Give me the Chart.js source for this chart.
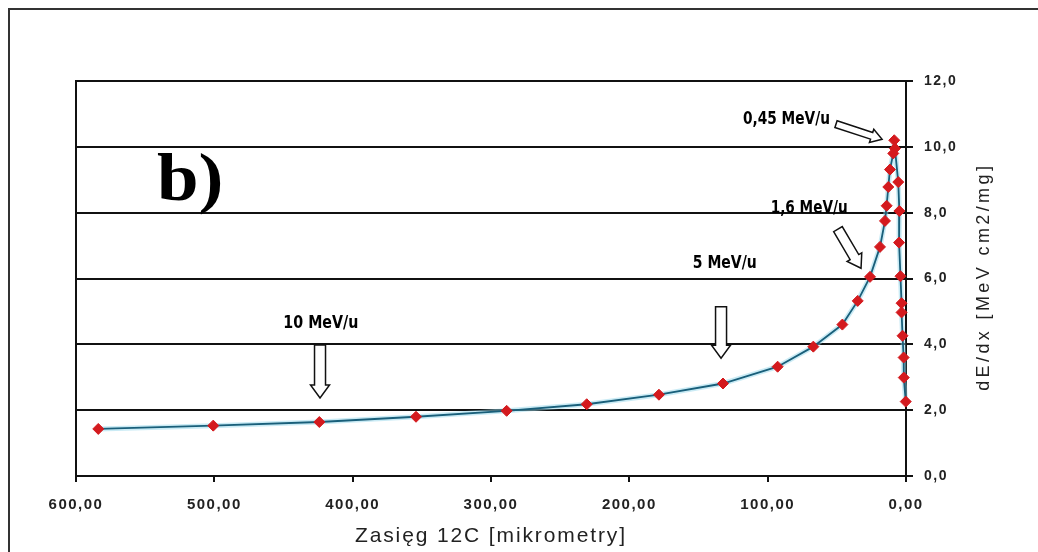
<!DOCTYPE html>
<html><head><meta charset="utf-8">
<script src="https://cdn.jsdelivr.net/npm/chart.js@4.4.1/dist/chart.umd.min.js"></script>
<style>html,body{margin:0;padding:0;background:#fff;}#wrap{width:1038px;height:552px;position:relative;}</style>
</head><body><div id="wrap"><canvas id="c" width="1038" height="552"></canvas></div>
<script>
// Range of 12C ions [micrometres] and stopping power dE/dx [MeV cm2/mg]
const rangeUm = [583.9, 500.8, 424.1, 354.2, 288.7, 230.8, 178.6, 132.3, 92.8, 67.0, 46.0, 34.9, 26.0, 18.8, 15.2, 14.0, 12.8, 11.6, 9.2, 8.5, 8.0, 5.6, 4.8, 5.0, 4.0, 3.2, 3.2, 2.5, 1.7, 1.6, 0.2];
const dEdx    = [1.43, 1.53, 1.64, 1.80, 1.98, 2.18, 2.47, 2.81, 3.32, 3.93, 4.60, 5.32, 6.05, 6.96, 7.75, 8.21, 8.78, 9.31, 9.80, 10.20, 9.95, 8.93, 8.05, 7.09, 6.07, 5.25, 4.97, 4.26, 3.60, 2.99, 2.26];

// axis ticks
const xTickValues = [600, 500, 400, 300, 200, 100, 0];
const yTickValues = [0, 2, 4, 6, 8, 10, 12];

// energy annotations (in data units)
const energyLabels = ['10 MeV/u', '5 MeV/u', '1,6 MeV/u', '0,45 MeV/u'];
const labelX = [423, 131, 70, 86.4];
const labelY = [4.64, 6.47, 8.14, 10.84];
const arrowFromX = [423.6, 133.7, 49.2, 50.6];
const arrowFromY = [3.98, 5.14, 7.50, 10.69];
const arrowToX = [423.6, 133.7, 32.5, 17.3];
const arrowToY = [2.37, 3.58, 6.31, 10.23];

// styles (pixels)
const labelWidths = [75, 64, 77, 87];
const arrowShaft = [11, 11, 10, 7];
const arrowHead = [19, 19, 17, 14];
const arrowHeadLen = [13, 13, 13, 11];

const fmtComma = (v, d) => v.toFixed(d).replace('.', ',');

function blockArrow(ctx, x1, y1, x2, y2, sw, hw, hl) {
  const dx = x2 - x1, dy = y2 - y1, L = Math.hypot(dx, dy);
  const ux = dx / L, uy = dy / L, nx = -uy, ny = ux;
  const nkx = x2 - ux * hl, nky = y2 - uy * hl;
  ctx.beginPath();
  ctx.moveTo(x1 + nx * sw / 2, y1 + ny * sw / 2);
  ctx.lineTo(nkx + nx * sw / 2, nky + ny * sw / 2);
  ctx.lineTo(nkx + nx * hw / 2, nky + ny * hw / 2);
  ctx.lineTo(x2, y2);
  ctx.lineTo(nkx - nx * hw / 2, nky - ny * hw / 2);
  ctx.lineTo(nkx - nx * sw / 2, nky - ny * sw / 2);
  ctx.lineTo(x1 - nx * sw / 2, y1 - ny * sw / 2);
  ctx.closePath();
  ctx.fillStyle = '#fff';
  ctx.fill();
  ctx.strokeStyle = '#111';
  ctx.lineWidth = 1.5;
  ctx.stroke();
}

function spacedText(ctx, text, cx, cy, font, targetW) {
  ctx.font = font;
  ctx.letterSpacing = '0px';
  const w = ctx.measureText(text).width;
  const sp = (targetW - w) / (text.length);
  ctx.letterSpacing = sp.toFixed(2) + 'px';
  ctx.textAlign = 'left';
  ctx.textBaseline = 'middle';
  ctx.fillText(text, cx - targetW / 2 + sp / 2, cy);
  ctx.letterSpacing = '0px';
}

const deco = {
  id: 'deco',
  beforeDraw(chart) {
    chart.ctx.letterSpacing = '1.5px';
  },
  beforeDatasetsDraw(chart) {
    const ctx = chart.ctx, a = chart.chartArea;
    const xs = chart.scales.x, ys = chart.scales.y;
    ctx.letterSpacing = '0px';
    ctx.save();
    // left border of the plot
    ctx.strokeStyle = '#111';
    ctx.lineWidth = 2;
    ctx.beginPath();
    ctx.moveTo(a.left, a.top - 1);
    ctx.lineTo(a.left, a.bottom + 1);
    ctx.stroke();
    // panel label
    ctx.save();
    ctx.fillStyle = '#000';
    ctx.font = 'bold 68px "Liberation Serif", "Times New Roman", serif';
    ctx.textAlign = 'left';
    ctx.textBaseline = 'alphabetic';
    ctx.translate(xs.getPixelForValue(541.5), ys.getPixelForValue(8.4));
    ctx.scale(1.1, 1);
    ctx.fillText('b)', 0, 0);
    ctx.restore();
    // energy annotations
    for (let i = 0; i < energyLabels.length; i++) {
      blockArrow(ctx,
        xs.getPixelForValue(arrowFromX[i]), ys.getPixelForValue(arrowFromY[i]),
        xs.getPixelForValue(arrowToX[i]), ys.getPixelForValue(arrowToY[i]),
        arrowShaft[i], arrowHead[i], arrowHeadLen[i]);
      const px = xs.getPixelForValue(labelX[i]), py = ys.getPixelForValue(labelY[i]);
      ctx.save();
      ctx.font = 'bold 17px "Liberation Sans Narrow", "Arial Narrow", "DejaVu Sans Condensed", sans-serif';
      const w = ctx.measureText(energyLabels[i]).width;
      ctx.translate(px, py);
      ctx.scale(labelWidths[i] / w, 1.05);
      ctx.fillStyle = '#000';
      ctx.textAlign = 'center';
      ctx.textBaseline = 'middle';
      ctx.fillText(energyLabels[i], 0, 0);
      ctx.restore();
    }
    ctx.restore();
  },
  afterDraw(chart) {
    const ctx = chart.ctx, a = chart.chartArea;
    ctx.save();
    ctx.fillStyle = '#222';
    spacedText(ctx, 'Zasięg 12C [mikrometry]', (a.left + a.right) / 2 - 1, 536, '21px "Liberation Sans", Arial, sans-serif', 272);
    ctx.save();
    ctx.translate(984, (a.top + a.bottom) / 2);
    ctx.rotate(-Math.PI / 2);
    spacedText(ctx, 'dE/dx [MeV cm2/mg]', 0, 0, '18px "Liberation Sans", Arial, sans-serif', 228);
    ctx.restore();
    // outer frame
    ctx.strokeStyle = '#333';
    ctx.lineWidth = 2;
    ctx.strokeRect(9, 9, 1200, 700);
    ctx.restore();
  }
};

const pts = rangeUm.map((x, i) => ({ x: x, y: dEdx[i] }));

new Chart(document.getElementById('c'), {
  type: 'scatter',
  data: {
    datasets: [
      {
        data: pts, showLine: true, borderColor: 'rgba(150,215,235,0.5)', borderWidth: 5,
        pointRadius: 0, clip: false, order: 2
      },
      {
        data: pts, showLine: true, borderColor: '#195f7a', borderWidth: 1.8,
        pointStyle: 'rectRot', pointRadius: 5.5, pointBackgroundColor: '#d41a1e',
        pointBorderColor: '#d41a1e', pointBorderWidth: 1, clip: false, order: 1
      }
    ]
  },
  options: {
    responsive: false,
    animation: false,
    devicePixelRatio: 1,
    layout: { padding: { left: 76, top: 81, right: 0, bottom: 0 } },
    plugins: { legend: { display: false }, tooltip: { enabled: false } },
    scales: {
      x: {
        type: 'linear', reverse: true, min: 0, max: 600,
        afterFit: s => { s.height = 76; },
        afterBuildTicks: s => { s.ticks = xTickValues.map(v => ({ value: v })); },
        grid: { drawOnChartArea: false, drawTicks: true, tickLength: 6, color: '#111', lineWidth: 2 },
        border: { display: true, color: '#111', width: 2 },
        ticks: {
          padding: 14, maxRotation: 0, color: '#222',
          font: { family: '"Liberation Sans", Arial, sans-serif', size: 15, weight: 'bold' },
          callback: v => fmtComma(v, 2)
        }
      },
      y: {
        type: 'linear', position: 'right', min: 0, max: 12,
        afterFit: s => { s.width = 132; },
        afterBuildTicks: s => { s.ticks = yTickValues.map(v => ({ value: v })); },
        grid: { drawOnChartArea: true, drawTicks: true, tickLength: 7, color: '#111', lineWidth: 2 },
        border: { display: true, color: '#111', width: 2 },
        ticks: {
          padding: 11, color: '#222',
          font: { family: '"Liberation Sans", Arial, sans-serif', size: 14, weight: 'bold' },
          callback: v => fmtComma(v, 1)
        }
      }
    }
  },
  plugins: [deco]
});
</script>
</body></html>
